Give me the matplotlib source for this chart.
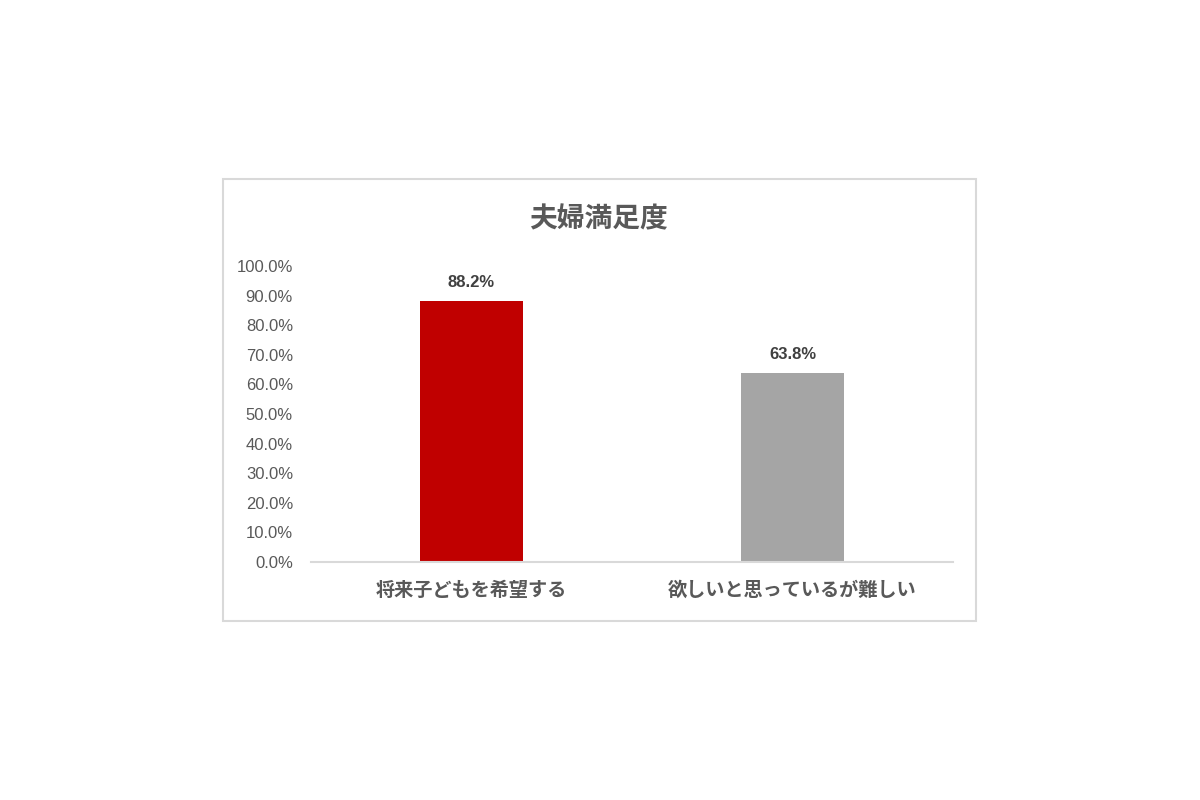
import matplotlib
matplotlib.use('Agg')
import matplotlib.pyplot as plt
import matplotlib.patches as patches
from matplotlib.ticker import PercentFormatter

plt.rcParams['font.family'] = ['Liberation Sans', 'Noto Sans CJK JP', 'DejaVu Sans']

# Chart data
title = '夫婦満足度'
categories = ['将来子どもを希望する', '欲しいと思っているが難しい']
values = [88.2, 63.8]
colors = ['#C00000', '#A5A5A5']

TEXT = '#595959'

fig = plt.figure(figsize=(12, 8), dpi=100)

# Outer chart frame.
fig.patches.append(patches.Rectangle((223 / 1200, 1 - 621 / 800), 753 / 1200, 442 / 800,
                                     transform=fig.transFigure, fill=False,
                                     edgecolor='#D9D9D9', linewidth=1.5))

ax = fig.add_axes([311 / 1200, 1 - 562 / 800, 642 / 1200, 296 / 800])

x = range(len(categories))
bars = ax.bar(x, values, width=0.32, color=colors)

for bar, v in zip(bars, values):
    ax.annotate(f'{v:.1f}%', xy=(bar.get_x() + bar.get_width() / 2, v), xytext=(0, 8),
                textcoords='offset points', ha='center', va='bottom',
                fontsize=12, fontweight='bold', color='#404040')

ax.set_xlim(-0.5, len(categories) - 0.5)
ax.set_ylim(0, 100)
ax.set_yticks(range(0, 101, 10))
ax.yaxis.set_major_formatter(PercentFormatter(decimals=1))
ax.set_xticks(list(x))
ax.set_xticklabels(categories, fontsize=13.8, fontweight='bold', color=TEXT)
ax.tick_params(axis='y', length=0, labelsize=12, labelcolor=TEXT, pad=13)
ax.tick_params(axis='x', length=0, pad=14)

for side in ['top', 'right', 'left']:
    ax.spines[side].set_visible(False)
ax.spines['bottom'].set_color('#D9D9D9')
ax.spines['bottom'].set_linewidth(1.5)

fig.text(598 / 1200, 1 - 220 / 800, title, ha='center', va='center',
         fontsize=20, fontweight='bold', color=TEXT)

fig.savefig('out.png', dpi=100)
